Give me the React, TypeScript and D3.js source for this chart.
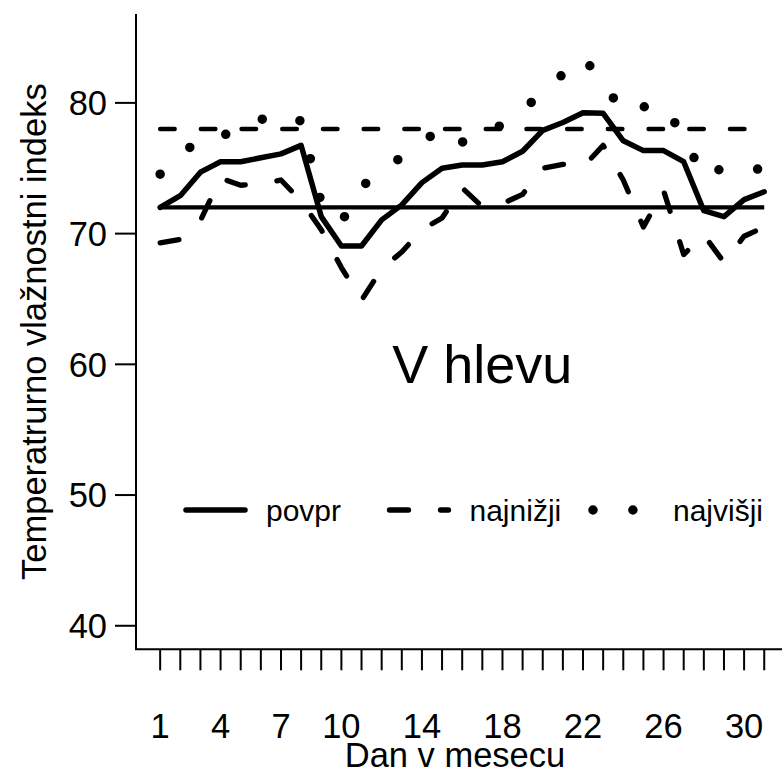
import React from 'react';
import * as d3 from 'd3';

// ---- data ----
const days = [1, 2, 3, 4, 5, 6, 7, 8, 9, 10, 11, 12, 13, 14, 15, 16, 17, 18, 19, 20, 21, 22, 23, 24, 25, 26, 27, 28, 29, 30, 31];
const povpr = [72.0, 72.9, 74.7, 75.5, 75.5, 75.8, 76.1, 76.75, 71.3, 69.05, 69.05, 71.05, 72.2, 73.9, 75.0, 75.25, 75.25, 75.5, 76.3, 77.9, 78.5, 79.25, 79.2, 77.1, 76.35, 76.35, 75.5, 71.75, 71.3, 72.6, 73.2];
const najnizji = [69.3, 69.55, 71.0, 74.25, 73.7, 73.8, 74.1, 72.5, 70.3, 67.4, 64.9, 67.3, 68.6, 70.3, 71.2, 73.5, 72.05, 72.3, 73.0, 75.0, 75.3, 75.1, 76.75, 74.1, 70.5, 73.3, 68.4, 69.9, 67.8, 69.8, 70.5];
const najvisji = [74.55, 75.93, 77.33, 77.5, 77.87, 78.72, 79.2, 78.6, 72.35, 70.87, 73.6, 74.76, 75.87, 76.97, 78.1, 77.0, 77.65, 78.33, 79.47, 80.79, 82.2, 83.5, 81.56, 79.23, 79.7, 79.8, 77.45, 74.25, 75.1, 74.8, 75.0];
const refSolid = 72;
const refDashed = 78;
const yTicks = [40, 50, 60, 70, 80];
const xTickLabels = [1, 4, 7, 10, 14, 18, 22, 26, 30];
const legendLabels = ['povpr', 'najnižji', 'najvišji'];
const yTitle = 'Temperatrurno vlažnostni indeks';
const xTitle = 'Dan v mesecu';
const plotLabel = 'V hlevu';
const plotLabelPos = { day: 17, value: 60 };

// ---- layout ----
const W = 782;
const H = 775;
const FONT = '"Liberation Sans", Arial, Helvetica, sans-serif';
const AXIS_FS = 34.5;
const left = 136;
const right = 788.4;
const top = 14;
const bottom = 649.3;

const x = d3.scaleLinear().domain([-0.2, 32.2]).range([left, right]);
const y = d3.scaleLinear().domain([38.2, 86.8]).range([bottom, top]);

const lineGen = d3
  .line<number>()
  .x((_, i) => x(days[i]))
  .y((d) => y(d));

const styles = [
  { width: 5.5, dash: undefined as string | undefined },
  { width: 5.3, dash: '19 32' },
  { width: 9.5, dash: '0 39.9' },
];
const seriesList = [povpr, najnizji, najvisji];

export default function App() {
  const legendY = 510;
  const legendX0 = 186;
  const legendStep = 203.5;
  const segLen = 59;
  const textOff = 80;

  return (
    <svg
      width={W}
      height={H}
      style={{ position: 'absolute', left: 0, top: 0, background: '#fff' }}
      fontFamily={FONT}
    >
      <rect x={0} y={0} width={W} height={H} fill="#fff" />
      <defs>
        <clipPath id="plotClip">
          <rect x={left} y={top} width={right - left} height={bottom - top} />
        </clipPath>
      </defs>

      {/* L-shaped box */}
      <path
        d={`M${left},${top}V${bottom}H${W}`}
        fill="none"
        stroke="#000"
        strokeWidth={2}
      />

      {/* y axis ticks and labels */}
      {yTicks.map((t) => (
        <g key={t}>
          <line x1={left - 21} x2={left} y1={y(t)} y2={y(t)} stroke="#000" strokeWidth={2} />
          <text x={107} y={y(t) + 12.4} fontSize={AXIS_FS} textAnchor="end">
            {t}
          </text>
        </g>
      ))}

      {/* x axis ticks and labels */}
      {days.map((d) => (
        <line key={d} x1={x(d)} x2={x(d)} y1={bottom} y2={bottom + 21} stroke="#000" strokeWidth={2} />
      ))}
      {xTickLabels.map((d) => (
        <text key={d} x={x(d)} y={738} fontSize={AXIS_FS} textAnchor="middle">
          {d}
        </text>
      ))}

      {/* axis titles */}
      <text x={455} y={767} fontSize={AXIS_FS} textAnchor="middle">
        {xTitle}
      </text>
      <text transform={`translate(46,${(top + bottom) / 2}) rotate(-90)`} fontSize={AXIS_FS} textAnchor="middle">
        {yTitle}
      </text>

      <g clipPath="url(#plotClip)">
        {/* reference lines */}
        <line
          x1={x(days[0])}
          x2={x(days[days.length - 1])}
          y1={y(refSolid)}
          y2={y(refSolid)}
          stroke="#000"
          strokeWidth={4.3}
        />
        <line
          x1={x(days[0])}
          x2={x(days[days.length - 1])}
          y1={y(refDashed)}
          y2={y(refDashed)}
          stroke="#000"
          strokeWidth={4.5}
          strokeDasharray="14.5 26.2"
          strokeLinecap="round"
        />

        {seriesList.map((s, i) => (
          <path
            key={i}
            d={lineGen(s) || ''}
            fill="none"
            stroke="#000"
            strokeWidth={styles[i].width}
            strokeDasharray={styles[i].dash}
            strokeLinecap="round"
            strokeLinejoin="round"
          />
        ))}

        {/* plot label */}
        <text x={x(plotLabelPos.day)} y={y(plotLabelPos.value) + 19} fontSize={54} textAnchor="middle">
          {plotLabel}
        </text>

        {/* legend */}
        {legendLabels.map((lab, i) => {
          const lx = legendX0 + i * legendStep;
          return (
            <g key={lab}>
              <line
                x1={lx}
                x2={lx + segLen}
                y1={legendY}
                y2={legendY}
                stroke="#000"
                strokeWidth={styles[i].width}
                strokeDasharray={styles[i].dash}
                strokeLinecap="round"
              />
              <text x={lx + textOff} y={legendY + 11} fontSize={30}>
                {lab}
              </text>
            </g>
          );
        })}
      </g>
    </svg>
  );
}
